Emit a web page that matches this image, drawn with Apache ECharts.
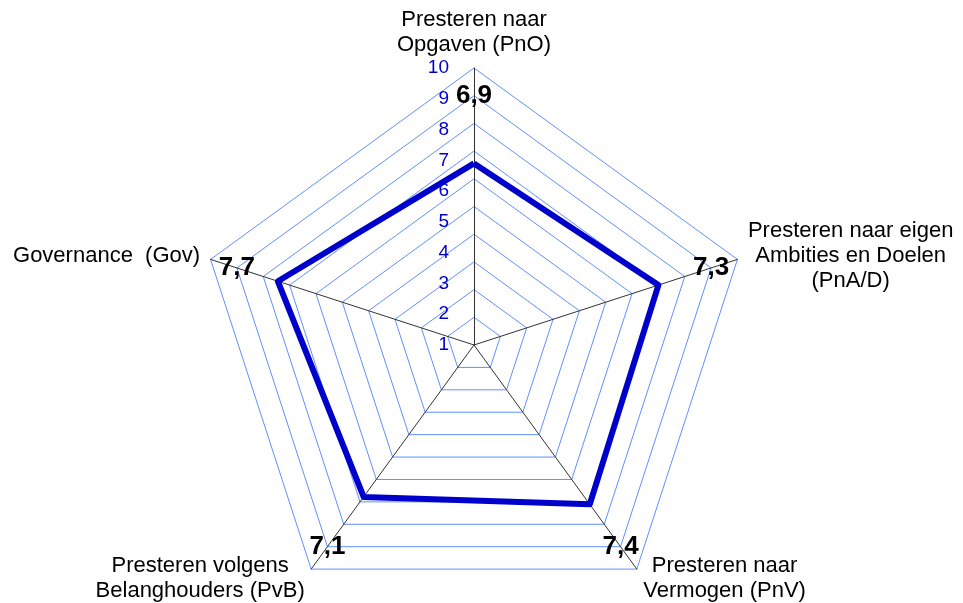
<!DOCTYPE html>
<html>
<head>
<meta charset="utf-8">
<script src="https://cdn.jsdelivr.net/npm/echarts@6/dist/echarts.min.js"></script>
<style>
    html, body { margin: 0; padding: 0; background: #ffffff; }
    #main { width: 963px; height: 603px; }
</style>
</head>
<body>
<div id="main"></div>
<script>
// indicatoren, tegen de klok in vanaf boven
var indicators = [
    'Presteren naar\nOpgaven (PnO)',
    'Governance  (Gov)',
    'Presteren volgens\nBelanghouders (PvB)',
    'Presteren naar\nVermogen (PnV)',
    'Presteren naar eigen\nAmbities en Doelen\n(PnA/D)'
];
var scores = [6.9, 7.7, 7.1, 7.4, 7.3];
var scaleMin = 1;
var scaleMax = 10;
var tickStep = 1;
// waar de score-labels staan (op de schaal)
var labelAt = 9.1;

var font = '"Liberation Sans", Arial, sans-serif';

var myChart = echarts.init(document.getElementById('main'));

function fmt(v) {
    return v.toFixed(1).replace('.', ',');
}

var option = {
    backgroundColor: '#ffffff',
    animation: false,
    radar: {
        center: [474, 345],
        radius: 277,
        shape: 'polygon',
        splitNumber: 10,
        nameGap: 11,
        indicator: indicators.map(function (n) {
            return { name: n, min: scaleMin, max: scaleMax };
        }),
        axisName: {
            color: '#000000',
            fontFamily: font,
            fontSize: 22,
            lineHeight: 25,
            formatter: function (name) {
                return name.split('\n').map(function (l) { return '{c|' + l + '}'; }).join('\n');
            },
            rich: {
                c: { align: 'center', fontFamily: font, fontSize: 22, lineHeight: 25, color: '#000000' }
            }
        },
        axisLine: { lineStyle: { color: '#333333', width: 1 } },
        splitLine: { lineStyle: { color: '#6090ff', width: 1 } },
        splitArea: { show: false },
        axisTick: { show: false },
        axisLabel: { show: false }
    },
    // alleen voor de schaallabels 1..10 langs de bovenste as
    grid: { left: 474, top: 68, width: 1, height: 277 },
    xAxis: { type: 'value', show: false },
    yAxis: {
        type: 'value',
        min: scaleMin,
        max: scaleMax,
        interval: tickStep,
        axisLine: { show: false },
        axisTick: { show: false },
        splitLine: { show: false },
        axisLabel: { color: '#0000cc', fontSize: 19, fontFamily: font, margin: 25 }
    },
    series: [
        {
            type: 'radar',
            z: 3,
            symbol: 'none',
            lineStyle: { color: '#0000cc', width: 6 },
            data: [{ value: scores }]
        },
        {
            // onzichtbare reeks die de scores als tekst neerzet
            type: 'radar',
            z: 4,
            symbol: 'circle',
            symbolSize: 1,
            itemStyle: { color: 'rgba(0,0,0,0)' },
            lineStyle: { opacity: 0 },
            silent: true,
            label: {
                show: true,
                position: 'inside',
                color: '#000000',
                fontFamily: font,
                fontWeight: 'bold',
                fontSize: 26,
                formatter: function (p) {
                    return fmt(scores[p.dimensionIndex]);
                }
            },
            data: [{ value: scores.map(function () { return labelAt; }) }]
        }
    ]
};

myChart.setOption(option);
</script>
</body>
</html>
